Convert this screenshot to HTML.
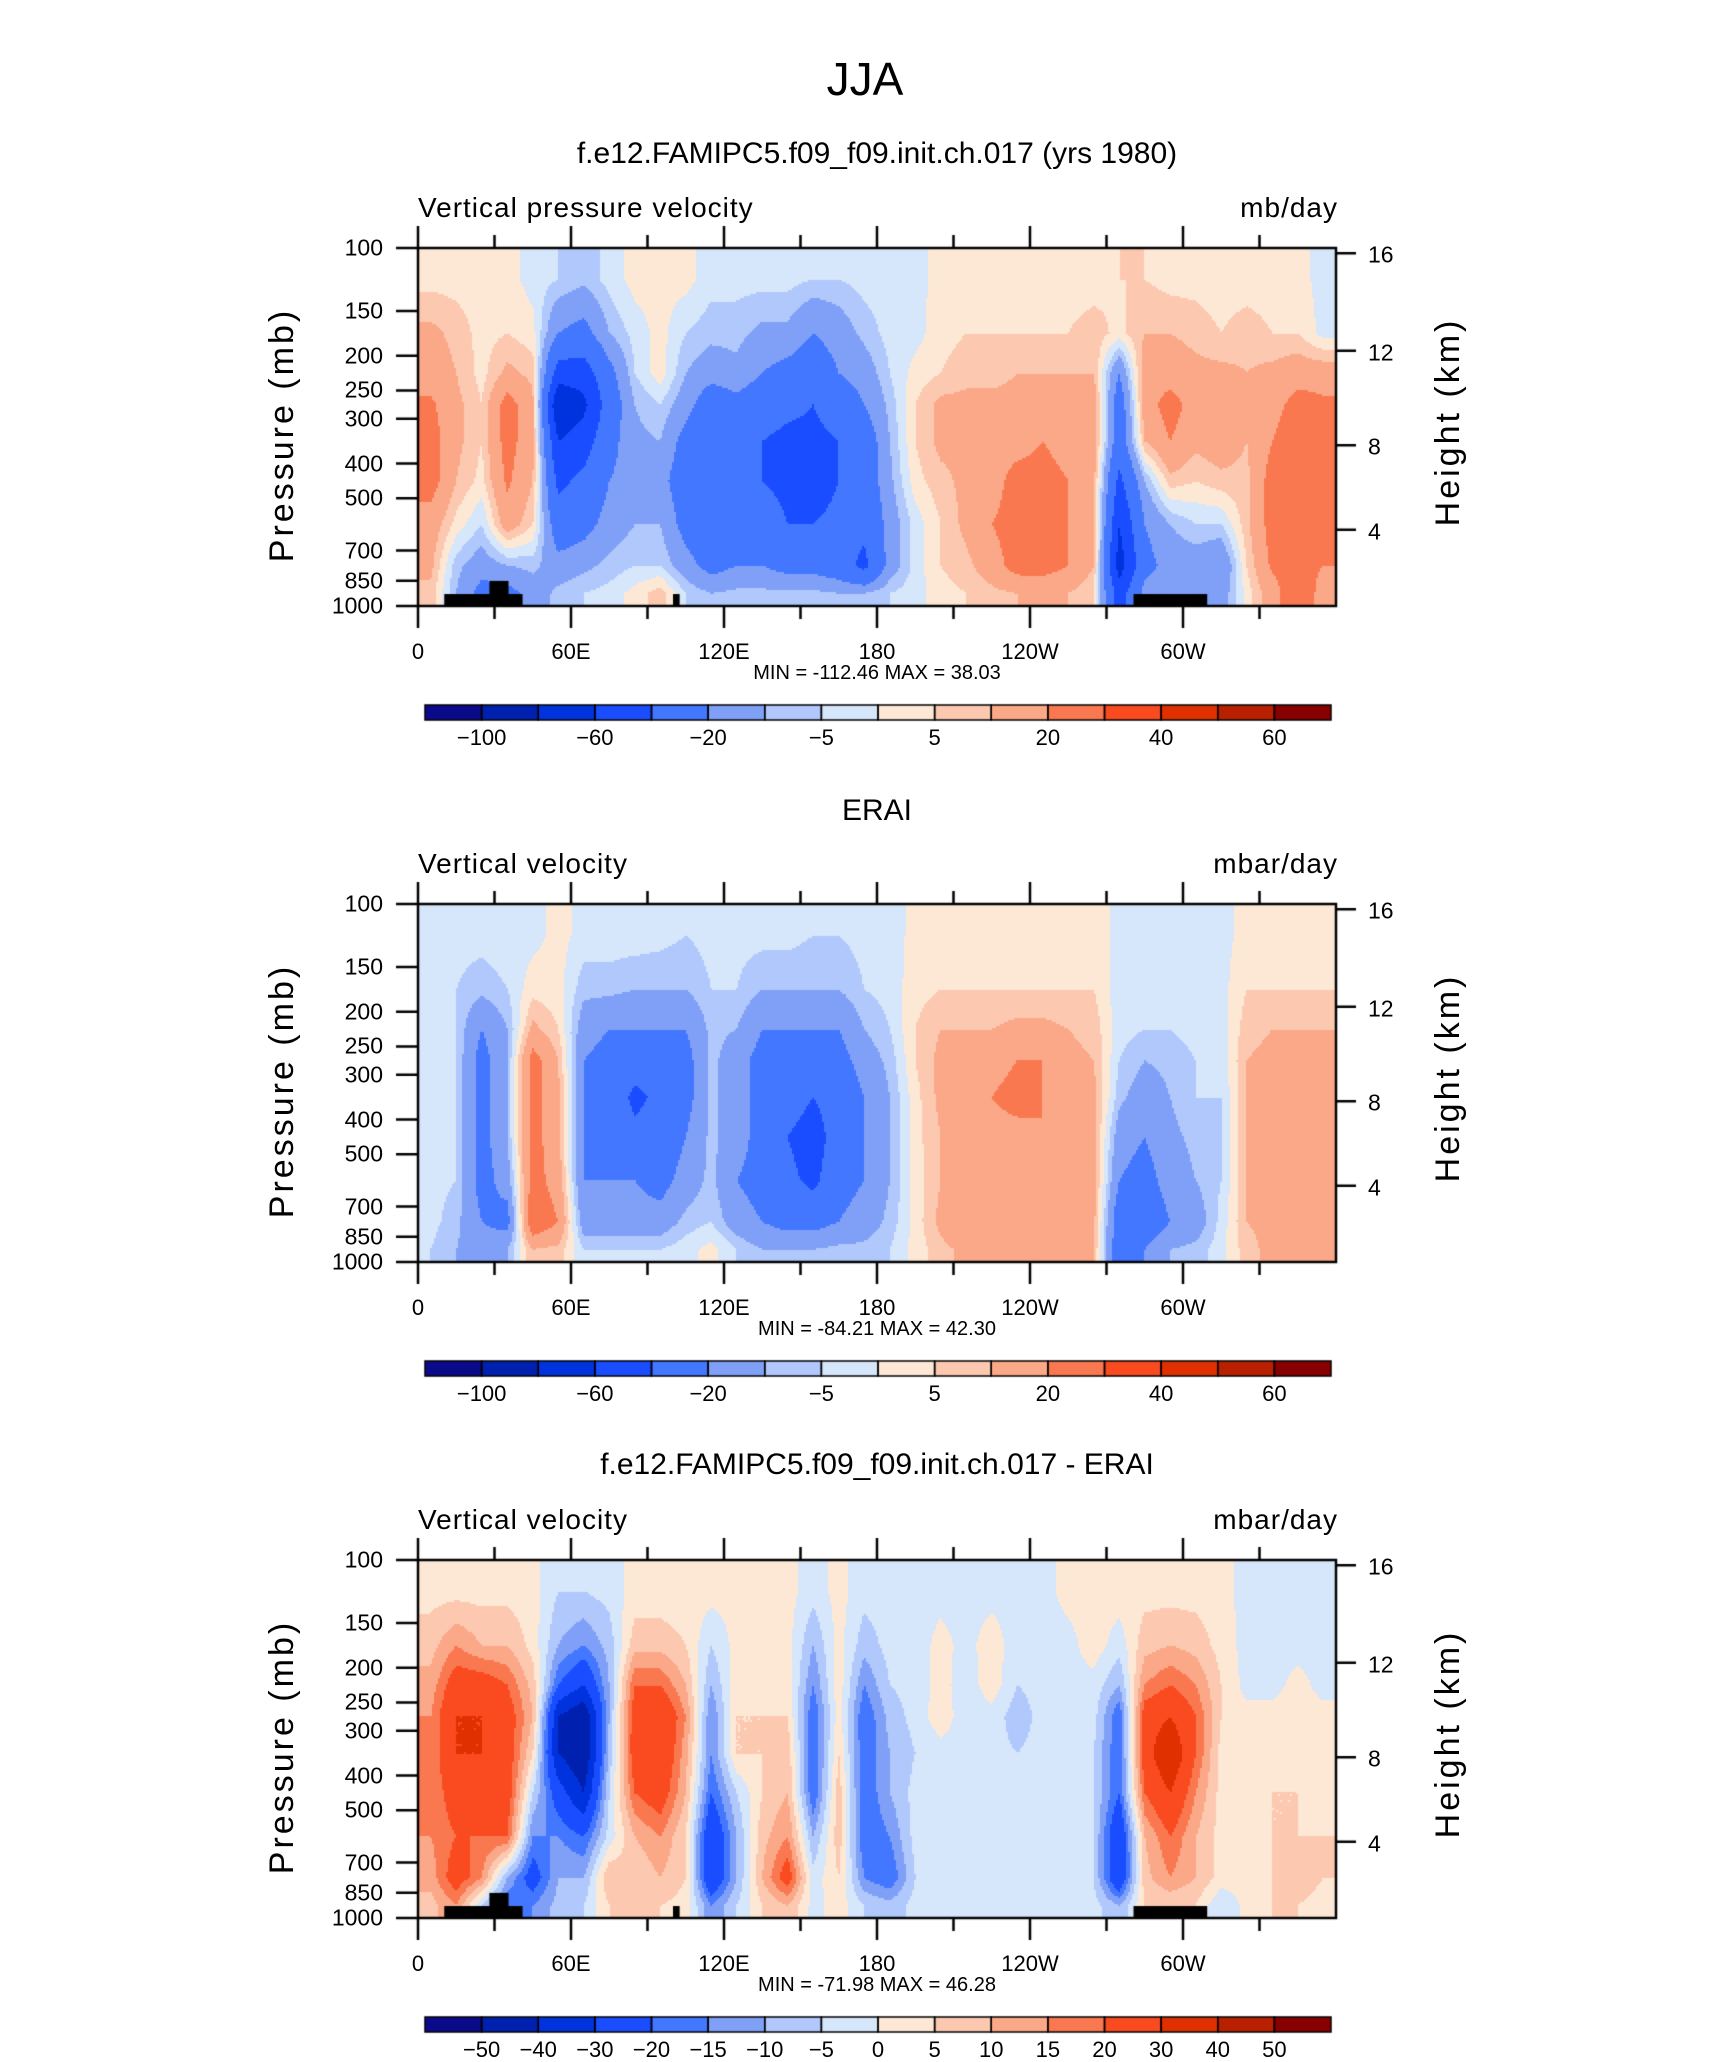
<!DOCTYPE html>
<html><head><meta charset="utf-8"><style>
body{margin:0;background:#fff;width:1710px;height:2038px;position:relative;overflow:hidden;font-family:"Liberation Sans",sans-serif;color:#000}
.t{position:absolute;white-space:nowrap;line-height:1}
canvas{position:absolute;left:0;top:0}
</style></head><body>
<canvas id="cv" width="1710" height="2038"></canvas>
<div id="txt"></div>
<script>
// ---- data ----
const lonBins = [5,15,25,35,45,55,65,75,85,95,105,115,125,135,145,155,165,175,185,195,205,215,225,235,245,255,265,275,285,295,305,315,325,335,345,355];
const presBands = [100,150,200,250,300,400,500,700,850,1000];
const pressureTicks = [100,150,200,250,300,400,500,700,850,1000];
const heightTicks = [16,12,8,4];
const heightTickP = [103.5,193.6,355.6,612];
const lonTicks = [0,30,60,90,120,150,180,210,240,270,300,330];
const lonLabels = ["0","","60E","","120E","","180","","120W","","60W",""];
const levelsAbs = [-100,-80,-60,-40,-20,-10,-5,0,5,10,20,30,40,50,60];
const levelLabelsAbs = ["-100","","-60","","-20","","-5","","5","","20","","40","","60"];
const levelsDiff = [-50,-40,-30,-20,-15,-10,-5,0,5,10,15,20,30,40,50];
const levelLabelsDiff = ["-50","-40","-30","-20","-15","-10","-5","0","5","10","15","20","30","40","50"];
const colors = ["#0a0a8a","#0020b0","#0033dd","#1a4dff","#4477ff","#80a0f8","#b0c8fb","#d6e6fb","#fde8d6","#fcc8b0","#fba888","#fa7850","#fa4a20","#e03000","#b82000","#880000"];
const terrainModel = [[10.3,41,926],[28,35.5,851],[100,102.6,926],[280.6,309.5,926]];
const fieldModel = [
[3,12,15,22,25,25,15,12,8],[3,8,10,12,12,10,3,-8,-10],[2,3,3,5,5,3,-5,-15,-25],[2,5,12,25,25,22,15,-10,-25],
[-2,2,8,12,12,10,5,-8,-15],[-5,-20,-50,-80,-60,-45,-30,-15,-8],[-8,-25,-50,-65,-50,-35,-25,-12,-5],[-3,-10,-25,-30,-25,-20,-15,-8,-3],
[2,-3,-5,-10,-12,-15,-10,-5,2],[2,2,3,-5,-10,-15,-10,-5,8],[2,-5,-10,-15,-25,-30,-25,-15,-5],[-3,-8,-15,-30,-35,-40,-35,-25,-10],
[-3,-8,-12,-25,-30,-30,-30,-20,-8],[-3,-12,-20,-30,-40,-40,-30,-20,-8],[-3,-12,-25,-35,-45,-45,-40,-25,-8],[-5,-20,-30,-40,-45,-50,-40,-25,-8],
[-5,-15,-20,-30,-40,-40,-35,-30,-10],[-3,-8,-15,-20,-30,-30,-35,-45,-10],[-2,-3,-5,-8,-10,-12,-15,-15,-5],[-2,-2,2,5,5,3,-3,-3,-2],
[2,3,5,12,12,8,5,5,3],[2,5,8,12,12,12,12,8,5],[2,5,8,12,15,15,20,15,8],[2,5,10,12,15,25,25,25,10],
[2,5,10,15,20,25,25,25,12],[2,5,10,15,15,20,20,20,10],[2,8,10,15,15,12,12,10,5],[5,3,-20,-30,-30,-45,-60,-70,-50],
[5,10,15,15,10,-10,-20,-25,-15],[3,10,15,25,20,8,-10,-15,-10],[3,8,12,15,12,5,-5,-15,-10],[2,5,12,15,15,8,-5,-20,-15],
[2,8,10,12,10,8,8,5,2],[2,5,12,15,20,25,25,22,15],[2,5,15,25,30,30,25,25,30],[-2,-2,15,22,25,25,22,20,15]];
const fieldObs = [
[-3,-3,-3,-3,-3,-3,-3,-3,-5],[-3,-5,-5,-5,-5,-5,-5,-8,-10],[-3,-8,-20,-25,-25,-25,-25,-20,-15],[-2,-5,-10,-10,-10,-10,-15,-25,-10],
[-2,3,12,25,25,25,25,30,10],[2,2,5,10,12,12,15,20,8],[-2,-8,-15,-20,-20,-20,-20,-15,-5],[-2,-8,-20,-25,-25,-25,-20,-15,-5],
[-2,-10,-20,-30,-45,-35,-20,-15,-5],[-3,-10,-20,-30,-35,-30,-25,-15,-5],[-5,-10,-20,-25,-25,-20,-15,-8,-2],[-3,-5,-8,-8,-8,-8,-8,-5,2],
[-3,-5,-10,-15,-15,-15,-20,-15,-5],[-3,-10,-20,-25,-25,-25,-25,-20,-10],[-3,-10,-20,-25,-30,-40,-35,-25,-10],[-5,-10,-20,-30,-40,-50,-45,-25,-10],
[-5,-10,-20,-25,-30,-30,-25,-20,-8],[-3,-5,-10,-15,-20,-20,-20,-15,-8],[-3,-3,-5,-8,-10,-10,-10,-8,-5],[2,3,5,5,3,3,2,2,2],
[3,5,10,12,12,10,10,12,8],[3,5,10,12,15,15,15,20,12],[3,5,10,15,20,15,15,20,15],[3,5,12,20,25,15,15,20,15],
[3,5,12,20,20,20,15,15,15],[3,5,10,12,15,20,15,15,12],[3,5,8,10,12,12,12,12,10],[-2,-3,-3,-5,-8,-15,-20,-30,-30],
[-2,-3,-5,-10,-15,-20,-25,-30,-20],[-2,-3,-5,-8,-10,-12,-15,-20,-10],[-2,-2,-3,-5,-5,-8,-10,-15,-8],[-2,-2,-3,-3,-5,-5,-5,-3,-2],
[2,5,8,10,10,10,10,10,8],[2,5,10,12,12,12,12,12,12],[2,5,10,12,12,15,15,15,15],[2,5,10,12,12,12,12,12,10]];
const fieldDiff = [
[3,8,12,15,15,15,15,12,8],[3,15,25,30,30,25,20,25,15],[3,10,25,30,30,25,20,15,-5],[3,10,20,25,25,25,20,-10,-20],
[2,3,8,10,5,-5,-15,-25,-15],[-5,-10,-20,-40,-40,-25,-15,-10,-8],[-5,-15,-30,-50,-50,-40,-20,-10,-5],[-3,-8,-10,-10,-8,-5,-3,10,5],
[2,8,20,25,25,20,10,5,5],[2,8,20,30,30,25,15,10,5],[2,5,10,15,12,10,5,5,3],[2,-5,-10,-15,-15,-20,-30,-30,-15],
[2,2,3,5,5,-5,-10,-10,-5],[2,2,3,5,5,5,8,10,5],[2,2,3,5,8,10,15,25,10],[-3,-10,-15,-20,-20,-20,-10,-3,-2],
[2,2,3,3,5,8,8,5,3],[-3,-8,-15,-20,-20,-20,-20,-15,-5],[-2,-3,-5,-8,-10,-10,-15,-20,-8],[-2,-3,-3,-3,-5,-3,-3,-5,-3],
[-2,2,2,3,-2,-2,-2,-3,-2],[-2,-2,-3,-3,-2,-2,-2,-3,-2],[-2,3,3,-2,-3,-3,-2,-2,-2],[-2,-3,-5,-8,-5,-3,-3,-2,-2],
[-2,-3,-3,-3,-3,-2,-2,-2,-2],[2,-2,-2,-2,-2,-2,-2,-3,-2],[2,3,-2,-3,-5,-5,-5,-5,-3],[3,-3,-10,-20,-20,-20,-30,-30,-10],
[3,8,15,25,25,20,10,8,5],[3,10,20,30,40,30,20,15,5],[3,8,15,20,20,15,10,10,5],[2,3,5,5,3,3,3,3,-5],
[-2,-2,-2,2,2,2,2,2,2],[-2,-2,-2,2,3,5,5,5,5],[-2,-2,2,3,5,5,5,8,5],[-2,-2,-2,2,3,3,5,5,3]];

// ---- layout ----
const L=418,R=1336,W=R-L,H=358;
const panels=[
 {top:248,field:fieldModel,levels:levelsAbs,labels:levelLabelsAbs,terrain:terrainModel,title:"f.e12.FAMIPC5.f09_f09.init.ch.017 (yrs 1980)",left:"Vertical pressure velocity",units:"mb/day",minmax:"MIN = -112.46   MAX =   38.03",name:"model"},
 {top:904,field:fieldObs,levels:levelsAbs,labels:levelLabelsAbs,terrain:[],title:"ERAI",left:"Vertical velocity",units:"mbar/day",minmax:"MIN = -84.21   MAX =   42.30",name:"erai"},
 {top:1560,field:fieldDiff,levels:levelsDiff,labels:levelLabelsDiff,terrain:terrainModel,title:"f.e12.FAMIPC5.f09_f09.init.ch.017 - ERAI",left:"Vertical velocity",units:"mbar/day",minmax:"MIN = -71.98   MAX =   46.28",name:"difference"}];
const cv=document.getElementById('cv'),ctx=cv.getContext('2d');
const txt=document.getElementById('txt');
function xL(lon){return L+lon/360*W;}
function yP(p,top){return top+Math.log10(p/100)*H;}
function addText(s,x,y,size,name,opts){
 const d=document.createElement('div');d.className='t';d.textContent=s;
 
 
 d.style.fontSize=size+'px';d.style.left=x+'px';d.style.top=y+'px';
 let tr=(opts&&opts.tr)||'translate(-50%,-50%)';d.style.transform=tr;
 if(opts&&opts.bold)d.style.fontWeight='bold';
 if(opts&&opts.ls)d.style.letterSpacing=opts.ls;
 txt.appendChild(d);return d;}
function colorOf(v,lev){let i=0;while(i<lev.length&&v>=lev[i])i++;return colors[i];}
const bandC=[];for(let j=0;j<presBands.length-1;j++)bandC.push((Math.log10(presBands[j])+Math.log10(presBands[j+1]))/2);
function sample(field,lon,lp){
 let fi=(lon-lonBins[0])/10;fi=Math.max(0,Math.min(lonBins.length-1,fi));
 let fj=0;if(lp<=bandC[0])fj=0;else if(lp>=bandC[bandC.length-1])fj=bandC.length-1;
 else{for(let j=0;j<bandC.length-1;j++)if(lp>=bandC[j]&&lp<=bandC[j+1]){fj=j+(lp-bandC[j])/(bandC[j+1]-bandC[j]);break;}}
 const i0=Math.floor(fi),i1=Math.min(i0+1,lonBins.length-1),j0=Math.floor(fj),j1=Math.min(j0+1,bandC.length-1);
 const a=fi-i0,b=fj-j0;
 return (1-a)*(1-b)*field[i0][j0]+a*(1-b)*field[i1][j0]+(1-a)*b*field[i0][j1]+a*b*field[i1][j1];}
addText("JJA",865,79,46,"main-title");
panels.forEach((P,k)=>{
 const top=P.top,bot=top+H;
 const st=2;
 for(let px=L;px<R;px+=st){for(let py=top;py<bot;py+=st){
  const lon=(px+st/2-L)/W*360;const lp=2+(py+st/2-top)/H;
  ctx.fillStyle=colorOf(sample(P.field,lon,lp),P.levels);ctx.fillRect(px,py,st,st);}}
 ctx.fillStyle='#000';
 P.terrain.forEach(t=>{const x0=xL(t[0]),x1=xL(t[1]),y0=yP(t[2],top);ctx.fillRect(x0,y0,x1-x0,bot-y0);});
 ctx.strokeStyle='#000';ctx.lineWidth=2.5;ctx.strokeRect(L,top,W,H);
 ctx.beginPath();
 lonTicks.forEach(l=>{const x=xL(l),len=(l%60===0)?22:13;ctx.moveTo(x,top);ctx.lineTo(x,top-len);ctx.moveTo(x,bot);ctx.lineTo(x,bot+len);});
 pressureTicks.forEach(p=>{const y=yP(p,top);ctx.moveTo(L,y);ctx.lineTo(L-22,y);});
 heightTickP.forEach(p=>{const y=yP(p,top);ctx.moveTo(R,y);ctx.lineTo(R+20,y);});
 ctx.stroke();
 lonTicks.forEach((l,i)=>{if(lonLabels[i])addText(lonLabels[i],xL(l),top+404,22,'x-tick-label-'+P.name);});
 pressureTicks.forEach(p=>addText(String(p),383,yP(p,top),23,'y-tick-label-'+P.name,{tr:'translate(-100%,-50%)'}));
 heightTicks.forEach((h,i)=>addText(String(h),1368,yP(heightTickP[i],top)+2,23,'height-tick-label-'+P.name,{tr:'translate(0,-50%)'}));
 const ty=[154,811,1465][k];
 addText(P.title,877,ty,30,'panel-title-'+P.name);
 addText(P.left,418,top-40,28,'variable-label-'+P.name,{tr:'translate(0,-50%)',ls:'1px'});
 addText(P.units,1338,top-40,28,'units-label-'+P.name,{tr:'translate(-100%,-50%)',ls:'1px'});
 addText("Pressure (mb)",282,top+H/2+8,34,'y-axis-title-'+P.name,{tr:'translate(-50%,-50%) rotate(-90deg)',ls:'3px'});
 addText("Height (km)",1448,top+H/2-5,34,'y2-axis-title-'+P.name,{tr:'translate(-50%,-50%) rotate(-90deg)',ls:'3px'});
 addText(P.minmax,877,top+425,20,'minmax-'+P.name);
 const cy=top+457,cx0=425,cw=(1331-425)/16;
 colors.forEach((c,i)=>{ctx.fillStyle=c;ctx.fillRect(cx0+i*cw,cy,cw,15);});
 ctx.lineWidth=1.5;ctx.strokeStyle='#000';
 for(let i=0;i<16;i++)ctx.strokeRect(cx0+i*cw,cy,cw,15);
 P.labels.forEach((s,i)=>{if(s)addText(s.replace('-','\u2212'),cx0+(i+1)*cw,cy+33,22,'colorbar-label-'+P.name);});
});
</script>
</body></html>
